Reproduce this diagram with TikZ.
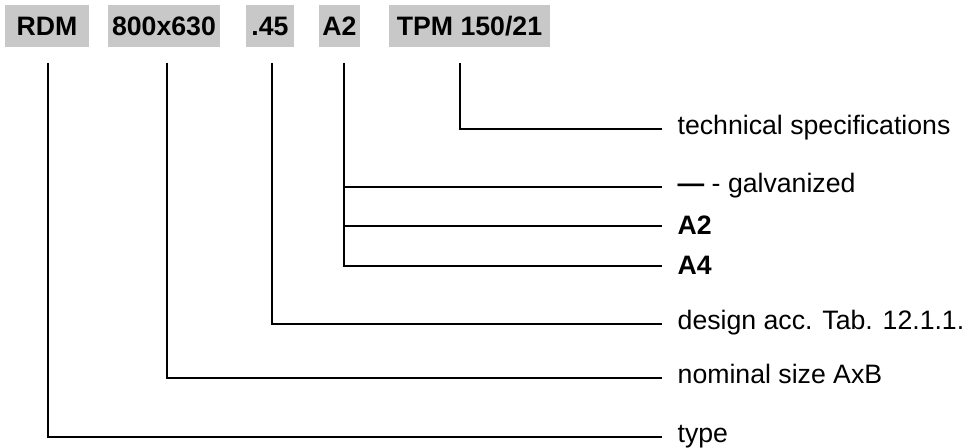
\documentclass[tikz,border=0pt]{standalone}
\usepackage{fontspec}
\setmainfont{Liberation Sans}
\definecolor{codegray}{RGB}{200,200,200}
\tikzset{
  codebox/.style={fill=codegray, minimum height=31.5pt, inner sep=0pt,
                  font=\fontsize{20}{24}\selectfont\bfseries},
  desc/.style={anchor=west, inner xsep=11pt, inner ysep=0pt, text height=8.2pt,
               text depth=0pt, font=\fontsize{20}{24}\selectfont},
  descbold/.style={desc, text height=13.5pt, font=\fontsize{20}{24}\selectfont\bfseries}
}
\begin{document}
\begin{tikzpicture}[x=0.75pt,y=-0.75pt,line width=1.5pt]
    \useasboundingbox (0,0) rectangle (964,448);

    % code parts
    \node[codebox,minimum width=63pt] (rdm) at (47,26.5) {RDM};
    \node[codebox,minimum width=84pt] (size) at (164,26.5) {800x630};
    \node[codebox,minimum width=36pt] (design) at (270,26.5) {.45};
    \node[codebox,minimum width=31pt] (mat) at (339.5,26.5) {A2};
    \node[codebox,minimum width=121pt] (tpm) at (469.5,26.5) {TPM 150/21};

    \coordinate (rdmline) at (48,63);
    \coordinate (sizeline) at (167,63);
    \coordinate (designline) at (272,63);
    \coordinate (matline) at (344,63);
    \coordinate (tpmline) at (460,63);

    % descriptions
    \node[desc] (spec) at (662,129) {technical specifications};
    \node[desc] (galv) at (662,187) {\textbf{—} - galvanized};
    \node[descbold] (atwo) at (662,226) {A2};
    \node[descbold] (afour) at (662,266) {A4};
    \node[desc] (acc) at (662,324) {design acc. Tab. 12.1.1.};
    \node[desc] (nom) at (662,378) {nominal size AxB};
    \node[desc] (type) at (662,437) {type};

    \draw (tpmline) |- (spec.west);
    \foreach \n in {galv,atwo,afour}
        \draw (matline) |- (\n.west);
    \draw (designline) |- (acc.west);
    \draw (sizeline) |- (nom.west);
    \draw (rdmline) |- (type.west);
\end{tikzpicture}
\end{document}
